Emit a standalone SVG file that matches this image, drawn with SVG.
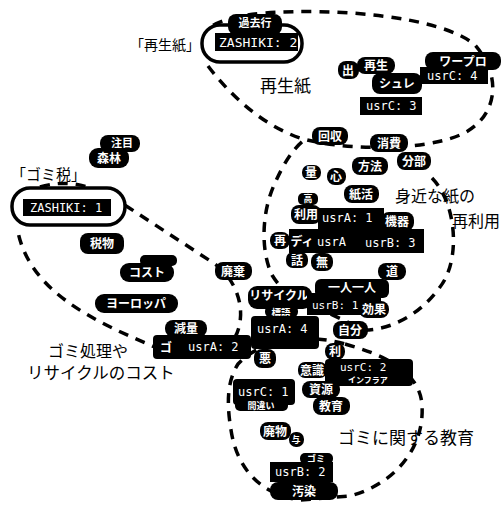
<svg xmlns="http://www.w3.org/2000/svg" width="501" height="506" viewBox="0 0 501 506">
<style>
.bg{fill:#fff}
.d{fill:none;stroke:#000;stroke-width:3.5;stroke-dasharray:10 8}
.n{fill:#000}
.t{fill:#fff;font-family:"Noto Sans CJK JP","Noto Sans",sans-serif;font-weight:bold;font-size:12px;text-anchor:middle}
.s{fill:#fff;font-family:"Noto Sans CJK JP","Noto Sans",sans-serif;font-weight:bold;font-size:9px;text-anchor:middle}
.u{fill:#fff;font-family:"DejaVu Sans Mono",monospace;font-size:12px}
.lab{fill:#000;font-family:"Noto Sans CJK JP","Noto Sans",sans-serif;font-size:17px}
.box{fill:#fff;stroke:#000;stroke-width:3.5}
</style>
<rect class="bg" x="0" y="0" width="501" height="506"/>
<g id="connectors">
<path class="d" d="M208,66 C230,95 262,125 300,138 C340,150 420,152 460,135 C495,120 505,80 475,45 C440,15 330,8 265,13 C240,15 222,20 212,26"/>
<path class="d" d="M432,178 C458,205 460,262 440,287 C420,315 390,330 365,330 L300,300 C285,292 278,285 272,275 C260,250 262,210 275,183 C283,165 292,150 303,141"/>
<path class="d" d="M40,187 C80,175 110,195 140,215 L215,264 C240,282 250,320 230,345 C210,360 180,355 155,347 C90,320 30,290 18,232"/>
<path class="d" d="M345,344 C385,355 420,372 422,405 C425,450 392,485 350,496 L300,500 C262,495 237,470 231,430 C226,400 228,380 238,364 C265,335 315,335 345,344"/>
</g>
<g id="zashiki2"><rect class="box" x="202" y="25" width="100" height="37" rx="18"/><rect class="n" x="215" y="33" width="83" height="18"/><text class="u" x="219" y="47" style="font-size:13px">ZASHIKI: 2</text></g>
<g id="n-kako"><rect class="n" x="228" y="14" width="54" height="21" rx="8"/><text class="t" x="255" y="27" style="font-size:11px">過去行</text></g>
<g id="zashiki1"><rect class="box" x="12" y="188" width="113" height="37" rx="18"/><rect class="n" x="23" y="199" width="88" height="17"/><text class="u" x="30" y="212">ZASHIKI: 1</text></g>
<g id="labels">
<text class="lab" x="200" y="50" text-anchor="end" style="font-size:14px">「再生紙」</text>
<text class="lab" x="11" y="180" style="font-size:15px">「ゴミ税」</text>
<text class="lab" x="260" y="92">再生紙</text>
<text class="lab" x="395" y="202" style="font-size:16px">身近な紙の</text>
<text class="lab" x="500" y="227" text-anchor="end" style="font-size:16px">再利用</text>
<text class="lab" x="48" y="357" style="font-size:16px">ゴミ処理や</text>
<text class="lab" x="27" y="379" style="font-size:16.5px">リサイクルのコスト</text>
<text class="lab" x="338" y="444">ゴミに関する教育</text>
</g>
<g id="n-de"><rect class="n" x="338" y="61" width="21" height="18" rx="8"/><text class="t" x="348" y="75">出</text></g>
<g id="n-saisei"><rect class="n" x="357" y="57" width="38" height="17" rx="8"/><text class="t" x="376" y="70">再生</text></g>
<g id="n-shure"><rect class="n" x="372" y="73" width="50" height="21" rx="8"/><text class="t" x="397" y="88">シュレ</text></g>
<g id="n-wapuro"><rect class="n" x="425" y="52" width="76" height="18" rx="8"/><text class="t" x="463" y="66">ワープロ</text></g>
<g id="u-c4"><rect class="n" x="420" y="67" width="68" height="17"/><text class="u" x="427" y="80">usrC: 4</text></g>
<g id="u-c3"><rect class="n" x="360" y="97" width="62" height="18"/><text class="u" x="366" y="110">usrC: 3</text></g>
<g id="n-kaishu"><rect class="n" x="312" y="127" width="36" height="18" rx="8"/><text class="t" x="330" y="141">回収</text></g>
<g id="n-shohi"><rect class="n" x="370" y="134" width="38" height="18" rx="8"/><text class="t" x="389" y="148">消費</text></g>
<g id="n-bubun"><rect class="n" x="397" y="152" width="34" height="18" rx="8"/><text class="t" x="414" y="166">分部</text></g>
<g id="n-ryo"><rect class="n" x="302" y="165" width="19" height="15" rx="7"/><text class="t" x="311" y="177">量</text></g>
<g id="n-kokoro"><rect class="n" x="327" y="168" width="19" height="17" rx="8"/><text class="t" x="336" y="181">心</text></g>
<g id="n-hoho"><rect class="n" x="352" y="157" width="36" height="18" rx="8"/><text class="t" x="370" y="171">方法</text></g>
<g id="n-shikatsu"><rect class="n" x="344" y="185" width="35" height="18" rx="8"/><text class="t" x="361" y="199">紙活</text></g>
<g id="n-ko"><rect class="n" x="298" y="193" width="20" height="12" rx="5"/><text class="s" x="308" y="202">高</text></g>
<g id="n-riyo"><rect class="n" x="291" y="205" width="30" height="19" rx="8"/><text class="t" x="306" y="219">利用</text></g>
<g id="u-a1"><rect class="n" x="318" y="208" width="66" height="26"/><text class="u" x="322" y="222">usrA: 1</text></g>
<g id="n-kiki"><rect class="n" x="381" y="212" width="33" height="19" rx="8"/><text class="t" x="397" y="226">機器</text></g>
<g id="n-sai"><rect class="n" x="270" y="232" width="20" height="17" rx="8"/><text class="t" x="280" y="245">再</text></g>
<g id="u-ab3"><rect class="n" x="289" y="229" width="135" height="24"/><text class="t" x="302" y="246">ディ</text><text class="u" x="317" y="246">usrA</text><text class="u" x="365" y="247">usrB: 3</text></g>
<g id="n-hanashi"><rect class="n" x="286" y="252" width="22" height="16" rx="7"/><text class="t" x="297" y="265">話</text></g>
<g id="n-mu"><rect class="n" x="311" y="253" width="22" height="18" rx="8"/><text class="t" x="322" y="267">無</text></g>
<g id="n-michi"><rect class="n" x="378" y="263" width="28" height="17" rx="8"/><text class="t" x="392" y="276">道</text></g>
<g id="n-haiki"><rect class="n" x="215" y="262" width="37" height="18" rx="8"/><text class="t" x="233" y="276">廃棄</text></g>
<g id="n-hitori"><rect class="n" x="315" y="279" width="74" height="19" rx="6"/><text class="t" x="352" y="292">一人一人</text></g>
<g id="n-recycle"><rect class="n" x="248" y="286" width="64" height="23" rx="9"/><text class="t" x="279" y="300">リサイクル</text></g>
<g id="u-b1"><rect class="n" x="307" y="293" width="74" height="22"/><text class="u" x="312" y="309" style="font-size:11px">usrB: 1</text></g>
<g id="n-koka"><rect class="n" x="359" y="301" width="30" height="17" rx="8"/><text class="t" x="374" y="314">効果</text></g>
<g id="n-hyogo"><rect class="n" x="265" y="305" width="33" height="13" rx="6"/><text class="s" x="281" y="316" style="font-size:9.5px">標語</text></g>
<g id="u-a4"><rect class="n" x="251" y="316" width="68" height="33" rx="4"/><text class="u" x="257" y="333">usrA: 4</text></g>
<g id="n-jibun"><rect class="n" x="333" y="321" width="35" height="18" rx="8"/><text class="t" x="350" y="335">自分</text></g>
<g id="n-aku"><rect class="n" x="254" y="349" width="22" height="19" rx="8"/><text class="t" x="265" y="363">悪</text></g>
<g id="n-chumoku"><rect class="n" x="100" y="135" width="40" height="17" rx="8"/><text class="t" x="122" y="147" style="font-size:11px">注目</text></g>
<g id="n-shinrin"><rect class="n" x="89" y="148" width="40" height="20" rx="9"/><text class="t" x="109" y="163">森林</text></g>
<g id="n-zeibutsu"><rect class="n" x="80" y="233" width="44" height="21" rx="8"/><text class="t" x="102" y="248">税物</text></g>
<g id="n-cost"><rect class="n" x="140" y="255" width="37" height="11" rx="5"/><rect class="n" x="120" y="263" width="54" height="19" rx="9"/><text class="t" x="147" y="277">コスト</text></g>
<g id="n-europe"><rect class="n" x="95" y="294" width="83" height="19" rx="9"/><text class="t" x="136" y="308">ヨーロッパ</text></g>
<g id="n-genryo"><rect class="n" x="165" y="320" width="42" height="17" rx="8"/><text class="t" x="186" y="333">減量</text></g>
<g id="u-a2"><rect class="n" x="153" y="335" width="98" height="24" rx="4"/><text class="t" x="166" y="352">ゴ</text><text class="u" x="188" y="351">usrA: 2</text></g>
<g id="n-ri"><rect class="n" x="325" y="343" width="20" height="17" rx="8"/><text class="t" x="335" y="356">利</text></g>
<g id="n-ishiki"><rect class="n" x="298" y="362" width="29" height="16" rx="7"/><text class="t" x="312" y="375">意識</text></g>
<g id="u-c2"><rect class="n" x="325" y="359" width="88" height="27" rx="4"/><text class="u" x="340" y="371" style="font-size:11px">usrC: 2</text><text class="s" x="368" y="383" style="font-size:8px">インフラア</text></g>
<g id="u-c1"><rect class="n" x="233" y="379" width="62" height="26" rx="4"/><text class="u" x="238" y="396">usrC: 1</text></g>
<g id="n-machigai"><rect class="n" x="235" y="400" width="53" height="11" rx="5"/><text class="s" x="261" y="409">間違い</text></g>
<g id="n-shigen"><rect class="n" x="302" y="381" width="38" height="17" rx="8"/><text class="t" x="321" y="394">資源</text></g>
<g id="n-kyoiku"><rect class="n" x="313" y="397" width="37" height="18" rx="8"/><text class="t" x="331" y="411">教育</text></g>
<g id="n-haibutsu"><rect class="n" x="260" y="422" width="31" height="18" rx="8"/><text class="t" x="275" y="436">廃物</text></g>
<g id="n-yo"><rect class="n" x="289" y="432" width="15" height="15" rx="7"/><text class="s" x="296" y="443">与</text></g>
<g id="n-gomi"><rect class="n" x="300" y="453" width="33" height="11" rx="5"/><text class="s" x="316" y="462">ゴミ</text></g>
<g id="u-b2"><rect class="n" x="270" y="462" width="63" height="20"/><text class="u" x="275" y="476">usrB: 2</text></g>
<g id="n-osen"><rect class="n" x="270" y="482" width="68" height="18" rx="8"/><text class="t" x="304" y="496">汚染</text></g>
</svg>
